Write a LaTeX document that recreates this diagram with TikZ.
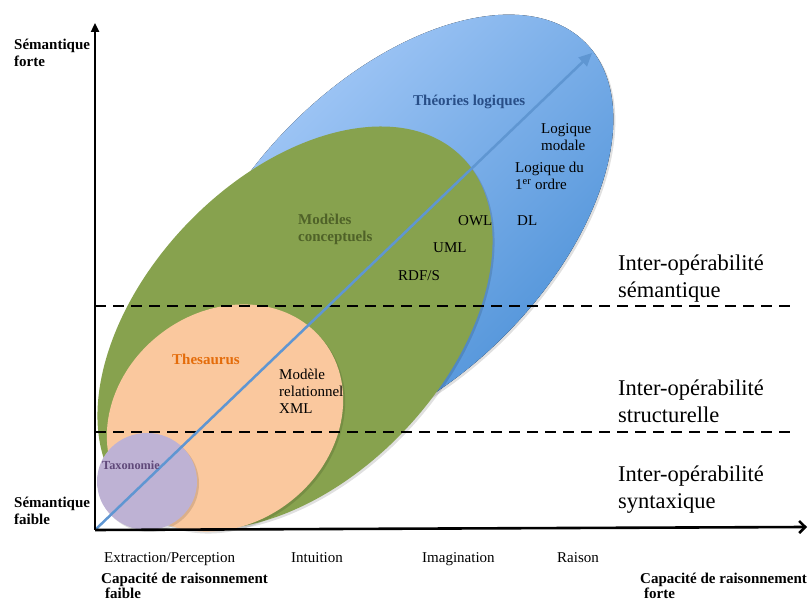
\documentclass[tikz,border=0pt]{standalone}
\usepackage{fontspec}
\setmainfont{Liberation Serif}
\usetikzlibrary{arrows.meta}
\definecolor{bluelight}{RGB}{172,206,250}
\definecolor{bluedark}{RGB}{72,142,214}
\definecolor{olivegreen}{RGB}{135,162,78}
\definecolor{peach}{RGB}{250,200,158}
\definecolor{lavender}{RGB}{190,178,212}
\definecolor{arrowblue}{RGB}{95,150,210}
\definecolor{txtblue}{RGB}{40,78,135}
\definecolor{txtgreen}{RGB}{79,98,40}
\definecolor{txtorange}{RGB}{228,108,10}
\definecolor{txtpurple}{RGB}{96,73,122}
\begin{document}
\begin{tikzpicture}[x=1pt,y=1pt,
  lbl/.style={anchor=north west, inner sep=0pt, font=\fontsize{15}{17}\selectfont, align=left},
  blbl/.style={anchor=north west, inner sep=0pt, font=\fontsize{15}{17}\selectfont\bfseries, align=left},
  caplbl/.style={anchor=north west, inner sep=0pt, font=\fontsize{15}{15}\selectfont\bfseries, align=left},
  biglbl/.style={anchor=north west, inner sep=0pt, font=\fontsize{22.5}{27}\selectfont, align=left},
  axisline/.style={line width=2.6pt, black},
  levelline/.style={line width=2.4pt, dash pattern=on 11pt off 7pt},
  shadowfill/.style={fill=black, fill opacity=0.12},
]
\useasboundingbox (0,0) rectangle (808,601);
% domains
\fill[shadowfill, rotate around={45:(400,369)}] (400,369) ellipse (265 and 150);
\fill[shading=axis, top color=bluelight, bottom color=bluedark, shading angle=45,
      rotate around={45:(398,371)}] (398,371) ellipse (265 and 150);
\fill[shadowfill, rotate around={46.3:(297,271)}] (297,271) ellipse (239 and 150);
\fill[olivegreen, rotate around={46.3:(295,273)}] (295,273) ellipse (239 and 150);
\fill[shadowfill, rotate around={38:(227,181)}] (227,181) ellipse (125 and 106);
\fill[peach, rotate around={38:(225,183)}] (225,183) ellipse (125 and 106);
\fill[shadowfill] (149,117.5) ellipse (50 and 48.5);
\fill[lavender] (147,119.5) ellipse (50 and 48.5);
% levels
\coordinate (d1a) at (95,295); \coordinate (d1b) at (791,295);
\coordinate (d2a) at (95,169); \coordinate (d2b) at (791,169);
\draw[levelline] (d1a) -- (d1b);
\draw[levelline] (d2a) -- (d2b);
% axes
\coordinate (O) at (95,71);
\coordinate (ytop) at (95,578);
\coordinate (xend) at (807,74);
\coordinate (dtip) at (592,548);
\draw[arrowblue, line width=2.5pt, -{Triangle[length=13pt,width=12pt]}] (O) -- (dtip);
\draw[axisline, -{Triangle[length=9pt,width=8pt]}] (O) -- (ytop);
\draw[axisline, -{Straight Barb[length=6pt,width=12pt]}] (O) -- (xend);
% labels
\node[blbl] (semforte) at (14,562) {Sémantique\\forte};
\node[blbl] (semfaible) at (14,104) {Sémantique\\faible};
\node[blbl, text=txtblue] (theories) at (413,506) {Théories logiques};
\node[lbl] (modale) at (541,478) {Logique\\modale};
\node[lbl] (premier) at (515,439) {Logique du\\1\textsuperscript{er} ordre};
\node[lbl] (dl) at (517,386) {DL};
\node[lbl] (owl) at (458,386) {OWL};
\node[lbl] (uml) at (433,359) {UML};
\node[lbl] (rdfs) at (398,331) {RDF/S};
\node[blbl, text=txtgreen] (modeles) at (298,387) {Modèles\\conceptuels};
\node[blbl, text=txtorange] (thesaurus) at (172,247) {Thesaurus};
\node[lbl] (relationnel) at (279,232) {Modèle\\relationnel\\XML};
\node[anchor=north west, inner sep=0pt, font=\fontsize{12.3}{14}\selectfont\bfseries, text=txtpurple] (taxo) at (102,140) {Taxonomie};
\node[biglbl] (isem) at (618,346) {Inter-opérabilité\\sémantique};
\node[biglbl] (istruct) at (618,221) {Inter-opérabilité\\structurelle};
\node[biglbl] (isynt) at (618,135) {Inter-opérabilité\\syntaxique};
\node[lbl] (extraction) at (104,49) {Extraction/Perception};
\node[lbl] (intuition) at (291,49) {Intuition};
\node[lbl] (imagination) at (422,49) {Imagination};
\node[lbl] (raison) at (557,49) {Raison};
\node[caplbl] (capfaible) at (101,28) {Capacité de raisonnement\\\hspace*{4pt}faible};
\node[caplbl] (capforte) at (640,28) {Capacité de raisonnement\\\hspace*{4pt}forte};
\end{tikzpicture}
\end{document}
